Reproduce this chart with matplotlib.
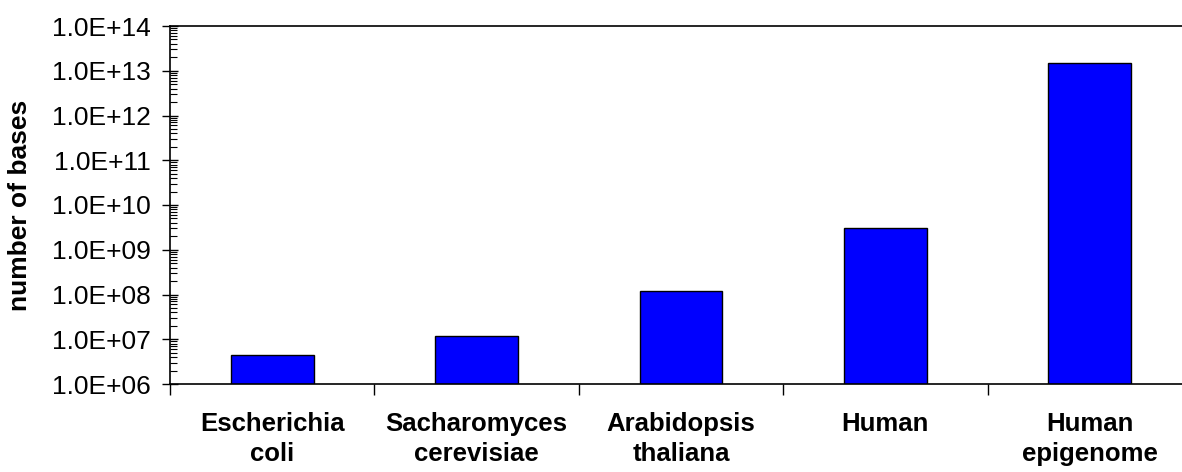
import matplotlib
matplotlib.use("Agg")
import matplotlib.pyplot as plt
import numpy as np
from matplotlib.ticker import LogLocator, FixedLocator, NullFormatter, FuncFormatter

plt.rcParams['font.family'] = ['Liberation Sans', 'DejaVu Sans']

organisms = ['Escherichia\ncoli', 'Sacharomyces\ncerevisiae', 'Arabidopsis\nthaliana',
             'Human', 'Human\nepigenome']
bases = [4.4e6, 1.2e7, 1.2e8, 3.0e9, 1.5e13]

fig = plt.figure(figsize=(11.82, 4.72), dpi=100)
# plot area runs past the right edge of the picture, as in the original
ax = fig.add_axes([170/1182, 1-384/472, 1022/1182, 358/472])

x = np.arange(len(organisms))
ax.bar(x, bases, width=0.405, color='#0000FF', edgecolor='black', linewidth=1.0)
ax.set_yscale('log')
ax.set_ylim(1e6, 1e14)
ax.set_xlim(-0.5, len(organisms) - 0.5)

ax.yaxis.set_major_locator(LogLocator(base=10, numticks=20))
ax.yaxis.set_minor_locator(LogLocator(base=10, subs=np.arange(2, 10), numticks=20))
ax.yaxis.set_minor_formatter(NullFormatter())
ax.yaxis.set_major_formatter(FuncFormatter(lambda v, p: '1.0E+%02d' % int(round(np.log10(v)))))
ax.tick_params(axis='y', which='major', direction='inout', length=12, width=1, labelsize=19, pad=8)
ax.tick_params(axis='y', which='minor', direction='in', length=5, width=0.8)

# boundaries get tick marks, centres get labels
ax.xaxis.set_major_locator(FixedLocator(np.arange(-0.5, len(organisms), 1.0)))
ax.xaxis.set_major_formatter(NullFormatter())
ax.xaxis.set_minor_locator(FixedLocator(x))
ax.set_xticklabels(organisms, minor=True, fontweight='bold', fontsize=18.5, linespacing=1.35)
ax.tick_params(axis='x', which='minor', length=0, pad=20)
ax.tick_params(axis='x', which='major', direction='out', length=8, width=1)

fig.text(20/1182, 1-205/472, 'number of bases', rotation=90, ha='center', va='center',
         fontweight='bold', fontsize=19)

for s in ax.spines.values():
    s.set_linewidth(1.2)
    s.set_color('black')

fig.savefig('out.png', dpi=100)
